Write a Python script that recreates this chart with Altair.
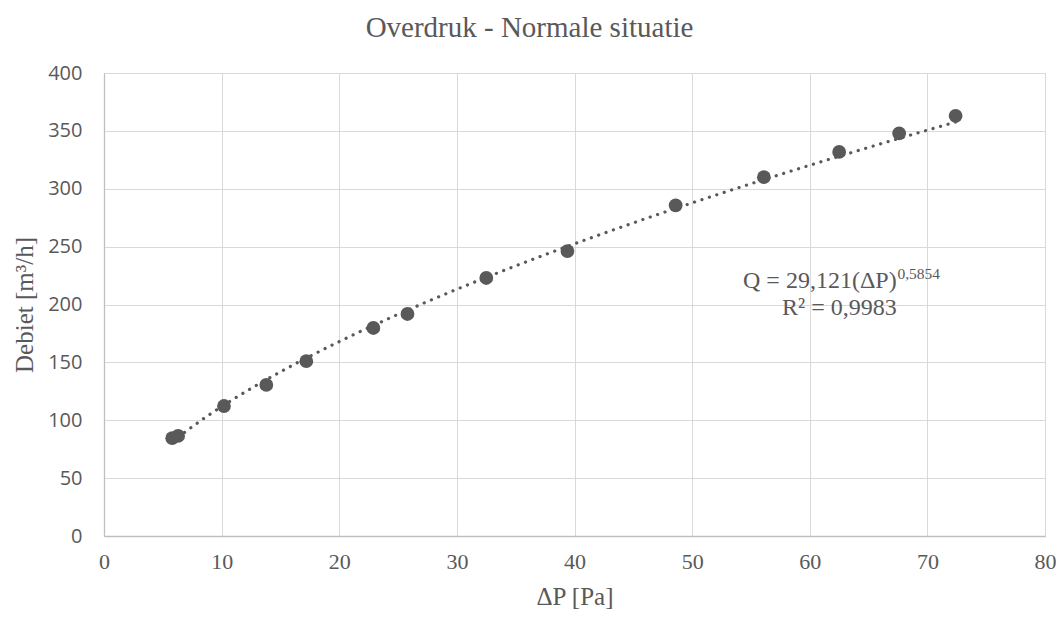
import altair as alt
import pandas as pd

# Data
dp = [5.8, 6.3, 10.2, 13.8, 17.2, 22.9, 25.8, 32.5, 39.4, 48.6, 56.1, 62.5, 67.6, 72.4]
q = [84.5, 86.5, 112.3, 130.5, 151.0, 179.7, 191.8, 222.9, 246.2, 285.7, 310.0, 331.8, 347.9, 363.0]

x_ticks = [0, 10, 20, 30, 40, 50, 60, 70, 80]
y_ticks = [0, 50, 100, 150, 200, 250, 300, 350, 400]

eq_main = ["Q = 29,121(ΔP)", "R² = 0,9983"]
eq_sup = ["0,5854"]

df = pd.DataFrame({"dp": dp, "q": q})
ann_main = pd.DataFrame({"t": eq_main, "x": [67.39, 67.39], "y": [214.3, 190.9]})
ann_sup = pd.DataFrame({"t": eq_sup, "x": [67.45], "y": [222.3]})

GRAY = "#595959"
SERIF = "Liberation Serif, Times New Roman, serif"

xscale = alt.Scale(domain=[0, 80], nice=False, zero=True)
yscale = alt.Scale(domain=[0, 400], nice=False, zero=True)

xaxis = alt.Axis(title="ΔP [Pa]", values=x_ticks, labelFont=SERIF, titleFont=SERIF,
                 labelFontSize=22, titleFontSize=25)
yaxis = alt.Axis(title="Debiet [m³/h]", values=y_ticks, labelFont="Open Sans",
                 titleFont=SERIF, labelFontSize=20, titleFontSize=25)

base = alt.Chart(df)

trend = base.transform_regression("dp", "q", method="pow").mark_line(
    color=GRAY, strokeWidth=3.2, strokeCap="round", strokeDash=[0.1, 7.7]
).encode(
    x=alt.X("dp:Q", scale=xscale, axis=xaxis),
    y=alt.Y("q:Q", scale=yscale, axis=yaxis),
)

points = base.mark_circle(size=190, color=GRAY, opacity=1).encode(
    x=alt.X("dp:Q", scale=xscale, axis=xaxis),
    y=alt.Y("q:Q", scale=yscale, axis=yaxis),
)

txt_main = alt.Chart(ann_main).mark_text(
    font=SERIF, fontSize=24, color=GRAY, align="right", baseline="alphabetic"
).encode(x=alt.X("x:Q", scale=xscale), y=alt.Y("y:Q", scale=yscale), text="t:N")

txt_sup = alt.Chart(ann_sup).mark_text(
    font=SERIF, fontSize=15.5, color=GRAY, align="left", baseline="alphabetic"
).encode(x=alt.X("x:Q", scale=xscale), y=alt.Y("y:Q", scale=yscale), text="t:N")

chart = alt.layer(trend, points, txt_main, txt_sup).properties(
    width=941,
    height=463,
    title=alt.TitleParams(
        "Overdruk - Normale situatie", font=SERIF, fontSize=29,
        fontWeight="normal", color=GRAY, anchor="middle", frame="group", dx=-45, offset=20,
    ),
    autosize=alt.AutoSizeParams(type="none"),
    padding={"left": 96, "top": 65, "right": 11, "bottom": 73},
).configure_view(stroke=None).configure(background="white").configure_axis(
    grid=True, gridColor="#d9d9d9", gridWidth=1,
    domainColor="#bfbfbf", domainWidth=1.3, ticks=False, tickSize=0,
    labelColor=GRAY, titleColor=GRAY, titleFont=SERIF,
    titleFontSize=25, titleFontWeight="normal", labelFlush=False,
).configure_axisX(
    labelFont=SERIF, labelFontSize=22, labelPadding=15, titlePadding=12,
).configure_axisY(
    labelFont="Open Sans", labelFontSize=20, labelPadding=22, titlePadding=10,
)

chart.save("out.html", embed_options={"renderer": "svg", "actions": False})
